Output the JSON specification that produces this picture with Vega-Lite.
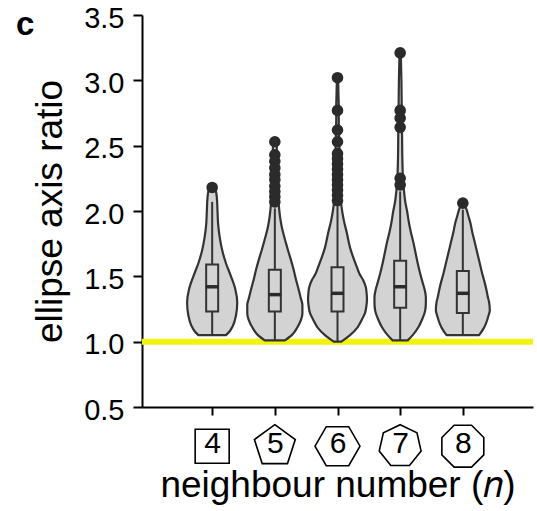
{
  "$schema": "https://vega.github.io/schema/vega-lite/v6.json",
  "width": 391,
  "height": 392,
  "autosize": {"type": "none"},
  "padding": {"left": 142, "top": 15, "right": 4, "bottom": 104},
  "background": "white",
  "title": {"text": "c", "anchor": "start", "frame": "group", "orient": "top", "dx": -126, "offset": -38, "baseline": "top", "fontSize": 33, "fontWeight": "bold", "font": "Liberation Sans", "color": "black"},
  "config": {
    "view": {"stroke": null},
    "font": "Liberation Sans"
  },
  "datasets": {
    "violin": [
      {"n": 4, "v": 1.05, "lo": 3.78, "hi": 4.22},
      {"n": 4, "v": 1.08, "lo": 3.72, "hi": 4.28},
      {"n": 4, "v": 1.12, "lo": 3.67, "hi": 4.33},
      {"n": 4, "v": 1.2, "lo": 3.62, "hi": 4.38},
      {"n": 4, "v": 1.3, "lo": 3.6, "hi": 4.4},
      {"n": 4, "v": 1.4, "lo": 3.63, "hi": 4.37},
      {"n": 4, "v": 1.5, "lo": 3.7, "hi": 4.3},
      {"n": 4, "v": 1.6, "lo": 3.78, "hi": 4.22},
      {"n": 4, "v": 1.7, "lo": 3.84, "hi": 4.16},
      {"n": 4, "v": 1.8, "lo": 3.88, "hi": 4.12},
      {"n": 4, "v": 1.9, "lo": 3.905, "hi": 4.095},
      {"n": 4, "v": 2.0, "lo": 3.915, "hi": 4.085},
      {"n": 4, "v": 2.1, "lo": 3.925, "hi": 4.075},
      {"n": 4, "v": 2.15, "lo": 3.94, "hi": 4.06},
      {"n": 4, "v": 2.19, "lo": 3.97, "hi": 4.03},
      {"n": 5, "v": 1.01, "lo": 4.84, "hi": 5.16},
      {"n": 5, "v": 1.05, "lo": 4.73, "hi": 5.27},
      {"n": 5, "v": 1.11, "lo": 4.64, "hi": 5.36},
      {"n": 5, "v": 1.17, "lo": 4.58, "hi": 5.42},
      {"n": 5, "v": 1.22, "lo": 4.56, "hi": 5.44},
      {"n": 5, "v": 1.28, "lo": 4.56, "hi": 5.44},
      {"n": 5, "v": 1.34, "lo": 4.59, "hi": 5.41},
      {"n": 5, "v": 1.4, "lo": 4.62, "hi": 5.38},
      {"n": 5, "v": 1.47, "lo": 4.66, "hi": 5.34},
      {"n": 5, "v": 1.55, "lo": 4.7, "hi": 5.3},
      {"n": 5, "v": 1.62, "lo": 4.74, "hi": 5.26},
      {"n": 5, "v": 1.7, "lo": 4.79, "hi": 5.21},
      {"n": 5, "v": 1.75, "lo": 4.82, "hi": 5.18},
      {"n": 5, "v": 1.82, "lo": 4.86, "hi": 5.14},
      {"n": 5, "v": 1.88, "lo": 4.89, "hi": 5.11},
      {"n": 5, "v": 1.95, "lo": 4.915, "hi": 5.085},
      {"n": 5, "v": 2.01, "lo": 4.93, "hi": 5.07},
      {"n": 5, "v": 2.1, "lo": 4.945, "hi": 5.055},
      {"n": 5, "v": 2.2, "lo": 4.955, "hi": 5.045},
      {"n": 5, "v": 2.3, "lo": 4.96, "hi": 5.04},
      {"n": 5, "v": 2.4, "lo": 4.965, "hi": 5.035},
      {"n": 5, "v": 2.5, "lo": 4.97, "hi": 5.03},
      {"n": 5, "v": 2.53, "lo": 4.98, "hi": 5.02},
      {"n": 6, "v": 1.0, "lo": 5.94, "hi": 6.06},
      {"n": 6, "v": 1.05, "lo": 5.8, "hi": 6.2},
      {"n": 6, "v": 1.11, "lo": 5.68, "hi": 6.32},
      {"n": 6, "v": 1.17, "lo": 5.61, "hi": 6.39},
      {"n": 6, "v": 1.22, "lo": 5.56, "hi": 6.44},
      {"n": 6, "v": 1.27, "lo": 5.54, "hi": 6.46},
      {"n": 6, "v": 1.32, "lo": 5.53, "hi": 6.47},
      {"n": 6, "v": 1.37, "lo": 5.535, "hi": 6.465},
      {"n": 6, "v": 1.42, "lo": 5.55, "hi": 6.45},
      {"n": 6, "v": 1.47, "lo": 5.59, "hi": 6.41},
      {"n": 6, "v": 1.52, "lo": 5.65, "hi": 6.35},
      {"n": 6, "v": 1.57, "lo": 5.69, "hi": 6.31},
      {"n": 6, "v": 1.62, "lo": 5.73, "hi": 6.27},
      {"n": 6, "v": 1.72, "lo": 5.8, "hi": 6.2},
      {"n": 6, "v": 1.83, "lo": 5.85, "hi": 6.15},
      {"n": 6, "v": 1.93, "lo": 5.9, "hi": 6.1},
      {"n": 6, "v": 2.03, "lo": 5.935, "hi": 6.065},
      {"n": 6, "v": 2.1, "lo": 5.95, "hi": 6.05},
      {"n": 6, "v": 2.2, "lo": 5.955, "hi": 6.045},
      {"n": 6, "v": 2.3, "lo": 5.96, "hi": 6.04},
      {"n": 6, "v": 2.4, "lo": 5.965, "hi": 6.035},
      {"n": 6, "v": 2.5, "lo": 5.97, "hi": 6.03},
      {"n": 6, "v": 2.6, "lo": 5.975, "hi": 6.025},
      {"n": 6, "v": 2.7, "lo": 5.98, "hi": 6.02},
      {"n": 6, "v": 2.8, "lo": 5.98, "hi": 6.02},
      {"n": 6, "v": 2.9, "lo": 5.985, "hi": 6.015},
      {"n": 6, "v": 3.02, "lo": 5.99, "hi": 6.01},
      {"n": 7, "v": 1.01, "lo": 6.88, "hi": 7.12},
      {"n": 7, "v": 1.05, "lo": 6.8, "hi": 7.2},
      {"n": 7, "v": 1.11, "lo": 6.71, "hi": 7.29},
      {"n": 7, "v": 1.17, "lo": 6.65, "hi": 7.35},
      {"n": 7, "v": 1.24, "lo": 6.6, "hi": 7.4},
      {"n": 7, "v": 1.3, "lo": 6.59, "hi": 7.41},
      {"n": 7, "v": 1.34, "lo": 6.59, "hi": 7.41},
      {"n": 7, "v": 1.4, "lo": 6.61, "hi": 7.39},
      {"n": 7, "v": 1.45, "lo": 6.64, "hi": 7.36},
      {"n": 7, "v": 1.52, "lo": 6.68, "hi": 7.32},
      {"n": 7, "v": 1.6, "lo": 6.72, "hi": 7.28},
      {"n": 7, "v": 1.68, "lo": 6.755, "hi": 7.245},
      {"n": 7, "v": 1.76, "lo": 6.79, "hi": 7.21},
      {"n": 7, "v": 1.84, "lo": 6.83, "hi": 7.17},
      {"n": 7, "v": 1.91, "lo": 6.86, "hi": 7.14},
      {"n": 7, "v": 2.0, "lo": 6.89, "hi": 7.11},
      {"n": 7, "v": 2.06, "lo": 6.915, "hi": 7.085},
      {"n": 7, "v": 2.16, "lo": 6.94, "hi": 7.06},
      {"n": 7, "v": 2.25, "lo": 6.955, "hi": 7.045},
      {"n": 7, "v": 2.4, "lo": 6.965, "hi": 7.035},
      {"n": 7, "v": 2.6, "lo": 6.97, "hi": 7.03},
      {"n": 7, "v": 2.8, "lo": 6.975, "hi": 7.025},
      {"n": 7, "v": 3.0, "lo": 6.98, "hi": 7.02},
      {"n": 7, "v": 3.21, "lo": 6.99, "hi": 7.01},
      {"n": 8, "v": 1.05, "lo": 7.74, "hi": 8.26},
      {"n": 8, "v": 1.1, "lo": 7.67, "hi": 8.33},
      {"n": 8, "v": 1.14, "lo": 7.63, "hi": 8.37},
      {"n": 8, "v": 1.2, "lo": 7.59, "hi": 8.41},
      {"n": 8, "v": 1.24, "lo": 7.57, "hi": 8.43},
      {"n": 8, "v": 1.3, "lo": 7.58, "hi": 8.42},
      {"n": 8, "v": 1.34, "lo": 7.6, "hi": 8.4},
      {"n": 8, "v": 1.4, "lo": 7.625, "hi": 8.375},
      {"n": 8, "v": 1.45, "lo": 7.65, "hi": 8.35},
      {"n": 8, "v": 1.52, "lo": 7.69, "hi": 8.31},
      {"n": 8, "v": 1.6, "lo": 7.73, "hi": 8.27},
      {"n": 8, "v": 1.68, "lo": 7.77, "hi": 8.23},
      {"n": 8, "v": 1.76, "lo": 7.81, "hi": 8.19},
      {"n": 8, "v": 1.84, "lo": 7.85, "hi": 8.15},
      {"n": 8, "v": 1.91, "lo": 7.88, "hi": 8.12},
      {"n": 8, "v": 1.96, "lo": 7.91, "hi": 8.09},
      {"n": 8, "v": 2.01, "lo": 7.94, "hi": 8.06},
      {"n": 8, "v": 2.05, "lo": 7.97, "hi": 8.03}
    ],
    "box": [
      {"n": 4, "wlo": 1.05, "q1": 1.23, "med": 1.42, "q3": 1.59, "whi": 2.07},
      {"n": 5, "wlo": 1.01, "q1": 1.23, "med": 1.36, "q3": 1.55, "whi": 2.02},
      {"n": 6, "wlo": 1.0, "q1": 1.23, "med": 1.37, "q3": 1.57, "whi": 2.06},
      {"n": 7, "wlo": 1.01, "q1": 1.26, "med": 1.42, "q3": 1.62, "whi": 2.15},
      {"n": 8, "wlo": 1.05, "q1": 1.22, "med": 1.37, "q3": 1.54, "whi": 2.01}
    ],
    "outliers": [
      {"n": 4, "v": 2.18},
      {"n": 5, "v": 2.53}, {"n": 5, "v": 2.43}, {"n": 5, "v": 2.38}, {"n": 5, "v": 2.33}, {"n": 5, "v": 2.28},
      {"n": 5, "v": 2.24}, {"n": 5, "v": 2.19}, {"n": 5, "v": 2.15}, {"n": 5, "v": 2.11}, {"n": 5, "v": 2.07},
      {"n": 6, "v": 3.02}, {"n": 6, "v": 2.77}, {"n": 6, "v": 2.62}, {"n": 6, "v": 2.53}, {"n": 6, "v": 2.44},
      {"n": 6, "v": 2.4}, {"n": 6, "v": 2.36}, {"n": 6, "v": 2.32}, {"n": 6, "v": 2.28}, {"n": 6, "v": 2.24},
      {"n": 6, "v": 2.2}, {"n": 6, "v": 2.16}, {"n": 6, "v": 2.12}, {"n": 6, "v": 2.08},
      {"n": 7, "v": 3.21}, {"n": 7, "v": 2.77}, {"n": 7, "v": 2.71}, {"n": 7, "v": 2.64}, {"n": 7, "v": 2.25}, {"n": 7, "v": 2.2},
      {"n": 8, "v": 2.06}
    ]
  },
  "layer": [
    {
      "data": {"values": [{"ref": 1}]},
      "mark": {"type": "rule", "color": "#f2f20f", "strokeWidth": 6},
      "encoding": {
        "y": {"field": "ref", "type": "quantitative", "scale": {"domain": [0.5, 3.5], "nice": false, "zero": false}, "title": "ellipse axis ratio"}
      }
    },
    {
      "data": {"name": "violin"},
      "mark": {"type": "area", "orient": "horizontal", "interpolate": "monotone", "fill": "#d3d3d3", "stroke": "#333333", "strokeWidth": 2.2, "strokeJoin": "round"},
      "encoding": {
        "y": {
          "field": "v", "type": "quantitative",
          "scale": {"domain": [0.5, 3.5], "nice": false, "zero": false},
          "title": "ellipse axis ratio",
          "axis": {"values": [0.5, 1, 1.5, 2, 2.5, 3, 3.5], "format": ".1f", "grid": false, "tickSize": 9, "tickWidth": 2, "tickColor": "black", "domainColor": "black", "domainWidth": 2, "labelFontSize": 29, "labelOffset": 3, "labelColor": "black", "labelPadding": 9, "labelFont": "Liberation Sans", "titleFont": "Liberation Sans", "titleFontSize": 37, "titleFontWeight": "normal", "titleColor": "black", "titlePadding": 14}
        },
        "x": {
          "field": "lo", "type": "quantitative",
          "scale": {"domain": [2.96, 9.04], "nice": false, "zero": false},
          "title": "neighbour number (𝑛)",
          "axis": {"values": [4, 5, 6, 7, 8], "format": "d", "grid": false, "tickSize": 8, "tickWidth": 2, "tickColor": "black", "domainColor": "black", "domainWidth": 2, "labelFontSize": 30, "labelColor": "black", "labelPadding": 13, "labelFlush": false, "labelFont": "Liberation Sans", "titleFont": "Liberation Sans", "titleFontSize": 37, "titleFontWeight": "normal", "titleColor": "black", "titlePadding": 9}
        },
        "x2": {"field": "hi"},
        "detail": {"field": "n", "type": "nominal"}
      }
    },
    {
      "data": {"name": "box"},
      "mark": {"type": "rule", "color": "#333333", "strokeWidth": 2},
      "encoding": {
        "x": {"field": "n", "type": "quantitative", "scale": {"domain": [2.96, 9.04], "nice": false, "zero": false}, "title": "neighbour number (𝑛)"},
        "y": {"field": "wlo", "type": "quantitative", "scale": {"domain": [0.5, 3.5], "nice": false, "zero": false}, "title": "ellipse axis ratio"},
        "y2": {"field": "whi"}
      }
    },
    {
      "data": {"name": "box"},
      "mark": {"type": "bar", "size": 12, "fill": "#d3d3d3", "stroke": "#333333", "strokeWidth": 2},
      "encoding": {
        "x": {"field": "n", "type": "quantitative", "scale": {"domain": [2.96, 9.04], "nice": false, "zero": false}, "title": "neighbour number (𝑛)"},
        "y": {"field": "q1", "type": "quantitative", "scale": {"domain": [0.5, 3.5], "nice": false, "zero": false}, "title": "ellipse axis ratio"},
        "y2": {"field": "q3"}
      }
    },
    {
      "data": {"name": "box"},
      "mark": {"type": "tick", "orient": "horizontal", "size": 13, "thickness": 3.5, "color": "#2b2b2b", "opacity": 1},
      "encoding": {
        "x": {"field": "n", "type": "quantitative", "scale": {"domain": [2.96, 9.04], "nice": false, "zero": false}, "title": "neighbour number (𝑛)"},
        "y": {"field": "med", "type": "quantitative", "scale": {"domain": [0.5, 3.5], "nice": false, "zero": false}, "title": "ellipse axis ratio"}
      }
    },
    {
      "data": {"name": "outliers"},
      "mark": {"type": "circle", "size": 135, "color": "#2b2b2b", "opacity": 1},
      "encoding": {
        "x": {"field": "n", "type": "quantitative", "scale": {"domain": [2.96, 9.04], "nice": false, "zero": false}, "title": "neighbour number (𝑛)"},
        "y": {"field": "v", "type": "quantitative", "scale": {"domain": [0.5, 3.5], "nice": false, "zero": false}, "title": "ellipse axis ratio"}
      }
    },
    {
      "data": {"name": "box"},
      "mark": {"type": "point", "filled": false, "stroke": "black", "strokeWidth": 1.6, "size": 1936, "opacity": 1, "clip": false},
      "encoding": {
        "x": {"field": "n", "type": "quantitative", "scale": {"domain": [2.96, 9.04], "nice": false, "zero": false}, "title": "neighbour number (𝑛)"},
        "y": {"datum": 0.2, "type": "quantitative", "scale": {"domain": [0.5, 3.5], "nice": false, "zero": false}, "title": "ellipse axis ratio"},
        "shape": {
          "field": "n", "type": "nominal", "legend": null,
          "scale": {
            "domain": [4, 5, 6, 7, 8],
            "range": [
              "M-0.773,-0.773L0.773,-0.773L0.773,0.773L-0.773,0.773Z",
              "M0,-0.977L0.929,-0.302L0.574,0.79L-0.574,0.79L-0.929,-0.302Z",
              "M1.023,0L0.511,0.886L-0.511,0.886L-1.023,0L-0.511,-0.886L0.511,-0.886Z",
              "M0,-0.977L0.764,-0.609L0.952,0.217L0.424,0.88L-0.424,0.88L-0.952,0.217L-0.764,-0.609Z",
              "M0.953,0.395L0.395,0.953L-0.395,0.953L-0.953,0.395L-0.953,-0.395L-0.395,-0.953L0.395,-0.953L0.953,-0.395Z"
            ]
          }
        }
      }
    }
  ]
}
